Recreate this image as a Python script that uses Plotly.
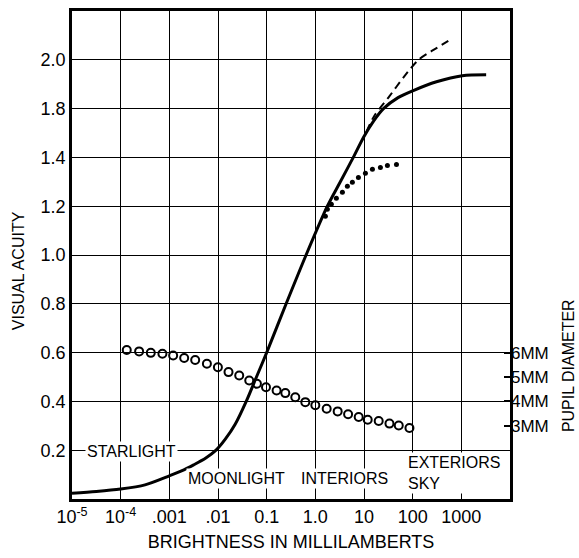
import plotly.graph_objects as go

# ---------------- data (x in log10 millilamberts) ----------------
acuity_logx = [-5.0, -4.5, -4.0, -3.5, -3.0, -2.75, -2.5, -2.25, -2.04, -1.85, -1.65, -1.42, -1.21, -1.0,
               -0.6, -0.19, 0.247, 0.5, 0.78, 1.0, 1.2, 1.4, 1.7, 2.0, 2.49, 3.02, 3.51]
acuity_val = [0.024, 0.031, 0.041, 0.058, 0.095, 0.115, 0.14, 0.168, 0.200, 0.245, 0.305, 0.40, 0.50, 0.60,
              0.80, 1.00, 1.20, 1.295, 1.40, 1.486, 1.55, 1.60, 1.645, 1.673, 1.710, 1.735, 1.739]

dashed_logx = [1.05, 1.21, 1.52, 1.82, 2.12, 2.49, 2.80]
dashed_val = [1.505, 1.57, 1.65, 1.73, 1.80, 1.848, 1.886]

dotted_logx = [0.206, 0.247, 0.329, 0.432, 0.556, 0.658, 0.761, 0.885, 1.029, 1.173, 1.337, 1.481, 1.667]
dotted_val = [1.159, 1.188, 1.208, 1.233, 1.257, 1.282, 1.298, 1.318, 1.335, 1.351, 1.359, 1.367, 1.371]

pupil_logx = [-3.875, -3.621, -3.381, -3.142, -2.922, -2.695, -2.469, -2.228, -2.002, -1.784,
              -1.564, -1.358, -1.200, -1.014, -0.796, -0.617, -0.412, -0.206, 0.0, 0.233,
              0.459, 0.673, 0.891, 1.076, 1.302, 1.523, 1.714, 1.934]
pupil_mm = [6.11, 6.05, 5.99, 5.95, 5.88, 5.78, 5.70, 5.54, 5.40, 5.20,
            5.06, 4.86, 4.72, 4.58, 4.45, 4.34, 4.17, 3.97, 3.84, 3.70,
            3.59, 3.47, 3.36, 3.25, 3.20, 3.09, 3.01, 2.91]

x_tickvals = [1e-5, 1e-4, 1e-3, 1e-2, 1e-1, 1, 10, 100, 1000]
x_ticktext = ["10<sup>-5</sup>", "10<sup>-4</sup>", ".001", ".01", "0.1", "1.0", "10", "100", "1000"]

y_tickvals = [0.2, 0.4, 0.6, 0.8, 1.0, 1.2, 1.4, 1.6, 1.8]
y_ticktext = ["0.2", "0.4", "0.6", "0.8", "1.0", "1.2", "1.4", "1.8", "2.0"]

y2_tickvals = [3, 4, 5, 6]
y2_ticktext = ["3MM", "4MM", "5MM", "6MM"]

region_labels = ["STARLIGHT", "MOONLIGHT", "INTERIORS", "EXTERIORS<br>SKY"]
region_logx = [-3.776, -1.615, 0.597, 1.872]
region_y = [0.196, 0.082, 0.085, 0.106]
region_anchor = ["center", "center", "center", "left"]

def tolin(lx):
    return [10 ** v for v in lx]

FONT = "Liberation Sans, Arial, sans-serif"

fig = go.Figure()
fig.add_trace(go.Scatter(x=tolin(acuity_logx), y=acuity_val, mode="lines",
                         line=dict(color="black", width=3, shape="spline", smoothing=0.8),
                         showlegend=False))
fig.add_trace(go.Scatter(x=tolin(dashed_logx), y=dashed_val, mode="lines",
                         line=dict(color="black", width=2, dash="8px,5px", shape="spline", smoothing=0.8),
                         showlegend=False))
fig.add_trace(go.Scatter(x=tolin(dotted_logx), y=dotted_val, mode="markers",
                         marker=dict(color="black", size=5), showlegend=False))
fig.add_trace(go.Scatter(x=tolin(pupil_logx), y=pupil_mm, mode="markers", yaxis="y2",
                         marker=dict(symbol="circle-open", color="black", size=8,
                                     line=dict(color="black", width=2)),
                         showlegend=False))

for t, lx, yy, anc in zip(region_labels, region_logx, region_y, region_anchor):
    fig.add_annotation(x=lx, y=yy, xref="x", yref="y", text=t, showarrow=False,
                       xanchor=anc, yanchor="middle", align="left",
                       bgcolor="white", borderpad=1,
                       font=dict(family=FONT, size=16, color="black"))

fig.add_annotation(x=-0.123, y=0.467, xref="paper", yref="paper", xanchor="center", yanchor="middle",
                   text="VISUAL ACUITY", textangle=-90, showarrow=False,
                   font=dict(family=FONT, size=16, color="black"))
fig.add_annotation(x=1.132, y=0.274, xref="paper", yref="paper", xanchor="center", yanchor="middle",
                   text="PUPIL DIAMETER", textangle=-90, showarrow=False,
                   font=dict(family=FONT, size=16, color="black"))

fig.update_layout(
    width=579, height=558,
    margin=dict(l=72, r=69, t=8, b=58),
    paper_bgcolor="white", plot_bgcolor="white",
    font=dict(family=FONT, color="black"),
    xaxis=dict(type="log", range=[-5, 4], tickvals=x_tickvals, ticktext=x_ticktext,
               showgrid=True, gridcolor="black", gridwidth=1.2,
               showline=True, linecolor="black", linewidth=2.5, mirror=True,
               ticks="", tickfont=dict(size=18, family=FONT), zeroline=False,
               title=dict(text="BRIGHTNESS IN MILLILAMBERTS", font=dict(size=18, family=FONT), standoff=10)),
    yaxis=dict(range=[0, 2.0], tickvals=y_tickvals, ticktext=y_ticktext,
               showgrid=True, gridcolor="black", gridwidth=1.2,
               showline=True, linecolor="black", linewidth=2.5, mirror=True,
               ticks="", tickfont=dict(size=18, family=FONT), zeroline=False),
    yaxis2=dict(range=[0, 20], overlaying="y", side="right", tickvals=y2_tickvals, ticktext=y2_ticktext,
                showgrid=False, ticks="inside", ticklen=6, tickwidth=1.5, tickcolor="black",
                showline=False, zeroline=False, tickfont=dict(size=17, family=FONT)),
)

fig.write_html("out.html")
